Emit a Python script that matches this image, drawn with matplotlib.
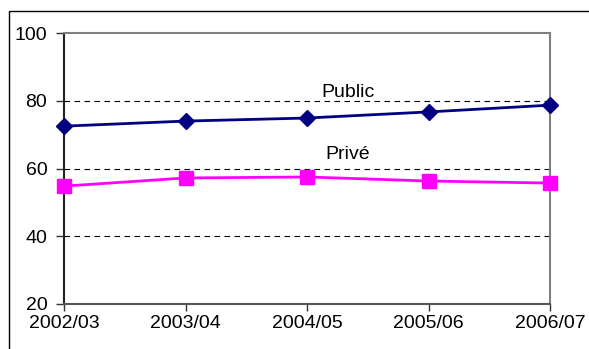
import matplotlib.pyplot as plt
from matplotlib.patches import Rectangle

years = ['2002/03', '2003/04', '2004/05', '2005/06', '2006/07']
public = [72.5, 74.0, 74.9, 76.7, 78.7]
prive = [54.8, 57.2, 57.5, 56.3, 55.7]

plt.rcParams['font.family'] = ['Liberation Sans', 'DejaVu Sans']

fig = plt.figure(figsize=(5.89, 3.49), dpi=100)
ax = fig.add_axes([64 / 589, 1 - 304 / 349, 486 / 589, 271 / 349])

x = list(range(len(years)))
ax.plot(x, public, color='#000080', lw=2, marker='D', ms=8, clip_on=False, zorder=4)
ax.plot(x, prive, color='#FF00FF', lw=2, marker='s', ms=10, clip_on=False, zorder=4)

ax.set_xlim(0, len(years) - 1)
ax.set_ylim(20, 100)
ax.set_yticks([20, 40, 60, 80, 100])
ax.set_xticks(x)
ax.set_xticklabels(years)
ax.tick_params(axis='both', labelsize=14, width=1, color='#333333', direction='out')
ax.tick_params(axis='x', length=5, pad=3)
ax.tick_params(axis='y', length=6, pad=6)

for v in [40, 60, 80]:
    ax.axhline(v, color='black', lw=0.8, ls=(0, (5, 4)), zorder=1)

ax.spines['left'].set_color('#222222')
ax.spines['bottom'].set_color('#555555')
ax.spines['top'].set_color('#808080')
ax.spines['right'].set_color('#808080')
for s in ax.spines.values():
    s.set_linewidth(1.5)

ax.text(2.12, 81.1, 'Public', fontsize=14)
ax.text(2.15, 62.8, 'Privé', fontsize=14)

fig.patches.append(Rectangle((9 / 589, -0.2), 1.2, 0.2 + 1 - 11 / 349,
                             transform=fig.transFigure, fill=False,
                             edgecolor='black', lw=1))

fig.savefig('out.png', dpi=100)
